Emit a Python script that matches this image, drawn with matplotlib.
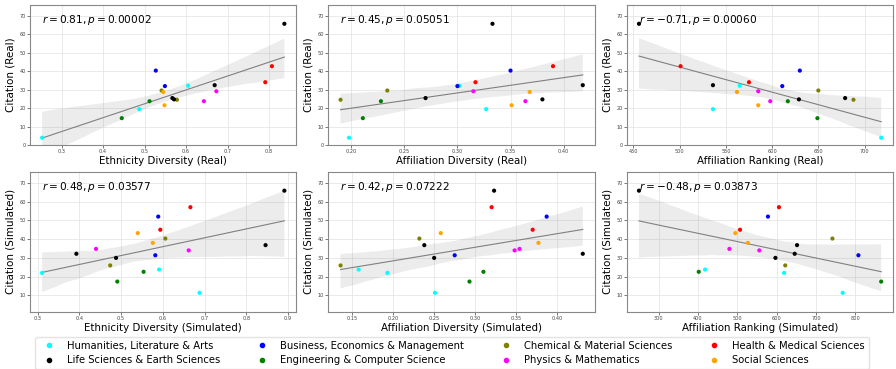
import matplotlib.pyplot as plt
import seaborn as sns
import numpy as np

# categories and colours
categories = ['Humanities, Literature & Arts', 'Business, Economics & Management',
              'Chemical & Material Sciences', 'Health & Medical Sciences',
              'Life Sciences & Earth Sciences', 'Engineering & Computer Science',
              'Physics & Mathematics', 'Social Sciences']
cat_colors = ['cyan', 'blue', 'olive', 'red', 'black', 'green', 'magenta', 'orange']

# category index of each point (same 19 entities in every panel)
point_cat = [0, 0, 0, 5, 5, 1, 1, 2, 2, 7, 7, 4, 4, 4, 4, 6, 6, 3, 3]

# real citations
cit_real = [4, 19.5, 32.2, 14.6, 23.8, 40.4, 32, 29.6, 24.6, 28.8, 21.6,
            25.5, 24.8, 32.5, 65.8, 23.8, 29.2, 34.1, 42.8]
eth_real = [0.253, 0.487, 0.605, 0.445, 0.512, 0.527, 0.549, 0.541, 0.578, 0.545, 0.548,
            0.567, 0.571, 0.669, 0.837, 0.643, 0.673, 0.791, 0.807]
aff_real = [0.198, 0.327, 0.302, 0.211, 0.228, 0.350, 0.300, 0.234, 0.190, 0.368, 0.351,
            0.270, 0.380, 0.418, 0.333, 0.364, 0.315, 0.317, 0.390]
rank_real = [718, 536, 565, 649, 617, 630, 611, 650, 688, 562, 585,
             679, 629, 536, 456, 598, 585, 575, 501]

# simulated citations
cit_sim = [22, 23.8, 11.4, 17.4, 22.6, 31.4, 52, 26, 40.3, 43.2, 38,
           32.2, 30, 36.8, 65.8, 34.8, 34, 45, 57]
eth_sim = [0.311, 0.591, 0.688, 0.491, 0.554, 0.582, 0.589, 0.474, 0.606, 0.540, 0.576,
           0.393, 0.488, 0.846, 0.891, 0.440, 0.662, 0.594, 0.666]
aff_sim = [0.193, 0.158, 0.251, 0.293, 0.310, 0.275, 0.387, 0.136, 0.232, 0.258, 0.377,
           0.431, 0.250, 0.238, 0.323, 0.354, 0.348, 0.370, 0.320]
rank_sim = [619, 418, 768, 866, 402, 808, 578, 622, 742, 495, 527,
            646, 597, 652, 250, 480, 556, 507, 606]

stats_text = ['$r = 0.81, p = 0.00002$', '$r = 0.45, p = 0.05051$', '$r = -0.71, p = 0.00060$',
              '$r = 0.48, p = 0.03577$', '$r = 0.42, p = 0.07222$', '$r = -0.48, p = 0.03873$']

panels = [
    (eth_real, cit_real, 'Ethnicity Diversity (Real)', 'Citation (Real)'),
    (aff_real, cit_real, 'Affiliation Diversity (Real)', 'Citation (Real)'),
    (rank_real, cit_real, 'Affiliation Ranking (Real)', 'Citation (Real)'),
    (eth_sim, cit_sim, 'Ethnicity Diversity (Simulated)', 'Citation (Simulated)'),
    (aff_sim, cit_sim, 'Affiliation Diversity (Simulated)', 'Citation (Simulated)'),
    (rank_sim, cit_sim, 'Affiliation Ranking (Simulated)', 'Citation (Simulated)'),
]

fig, axes = plt.subplots(2, 3, figsize=(8.96, 3.69), dpi=100)
plt.subplots_adjust(left=0.0335, right=0.997, top=0.9865, bottom=0.155, wspace=0.12, hspace=0.19)

for i, (ax, (x, y, xl, yl)) in enumerate(zip(axes.flat, panels)):
    sns.regplot(x=np.array(x), y=np.array(y), ax=ax, scatter=False, color='gray',
                line_kws={'linewidth': 0.8}, seed=0)
    ax.scatter(x, y, c=[cat_colors[c] for c in point_cat], s=9, zorder=3, linewidths=0)
    ax.text(0.045, 0.89, stats_text[i], transform=ax.transAxes, fontsize=7.6, va='center')
    ax.set_xlabel(xl, fontsize=7.4, labelpad=1.5)
    ax.set_ylabel(yl, fontsize=7.5, labelpad=3)
    ax.grid(True, color='#e6e6e6', linewidth=0.6)
    ax.set_axisbelow(True)
    ax.tick_params(labelsize=3.6, length=2, width=0.5, pad=1, colors='#444444')
    for s in ax.spines.values():
        s.set_color('#888888')
        s.set_linewidth(0.8)
    if i < 3:
        ax.set_yticks([0, 10, 20, 30, 40, 50, 60, 70])
        ax.set_ylim(0, 76)
    else:
        ax.set_yticks([10, 20, 30, 40, 50, 60, 70])
        ax.set_ylim(1.3, 75.9)

# legend filled column by column, so reorder to get the reference rows
order = [0, 4, 1, 5, 2, 6, 3, 7]
handles = [plt.Line2D([], [], marker='o', linestyle='', color=cat_colors[k], markersize=3) for k in order]
labels = [categories[k] for k in order]
fig.legend(handles, labels, loc='upper center', bbox_to_anchor=(0.504, 0.0875), ncol=4,
           fontsize=7.2, frameon=True, edgecolor='#dddddd', columnspacing=3.2,
           borderpad=0.4, labelspacing=0.45, borderaxespad=0)

plt.savefig('out.png', dpi=100)
